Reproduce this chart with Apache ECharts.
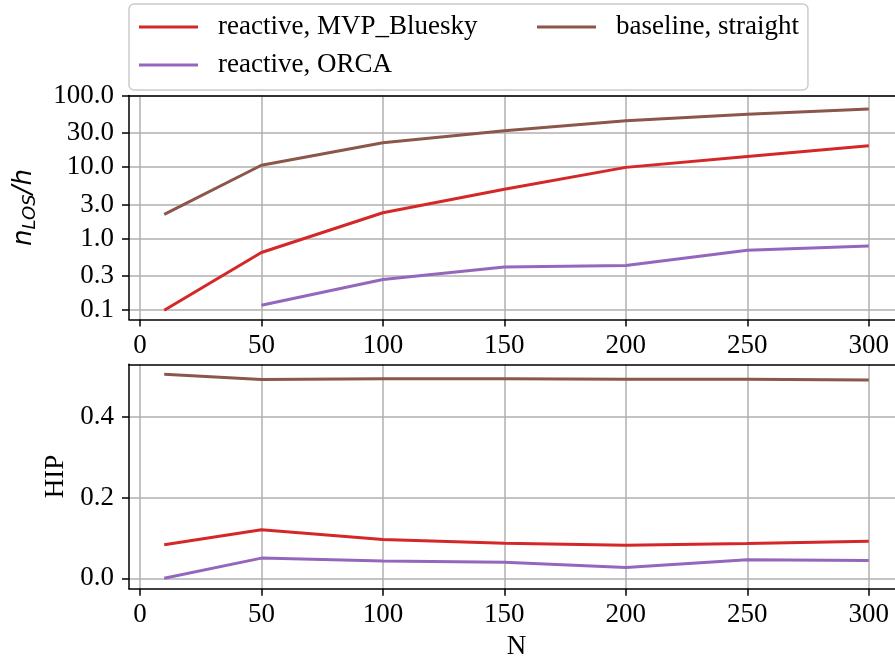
<!DOCTYPE html>
<html>
<head>
<meta charset="utf-8">
<script src="https://cdn.jsdelivr.net/npm/echarts@6/dist/echarts.min.js"></script>
<style>
  html, body { margin: 0; padding: 0; background: #fff; }
  #chart { width: 895px; height: 663px; }
</style>
</head>
<body>
<div id="chart"></div>
<script>
// Number of aircraft N
const nValues = [10, 50, 100, 150, 200, 250, 300];

// Losses of separation per hour (log scale)
const losMvp      = [0.1, 0.64, 2.3, 4.9, 9.9, 14.1, 19.9];
const losOrca     = [null, 0.117, 0.268, 0.40, 0.42, 0.69, 0.79];
const losBaseline = [2.18, 10.6, 21.9, 32.2, 44.5, 54.6, 64.7];

// HIP metric
const hipMvp      = [0.083, 0.120, 0.096, 0.087, 0.082, 0.086, 0.092];
const hipOrca     = [0.0, 0.050, 0.043, 0.040, 0.027, 0.046, 0.044];
const hipBaseline = [0.505, 0.492, 0.494, 0.494, 0.493, 0.493, 0.491];

// Tick positions
const xTicks   = [0, 50, 100, 150, 200, 250, 300];
const losTicks = [0.1, 0.3, 1, 3, 10, 30, 100];
const hipTicks = [0, 0.2, 0.4];

const seriesNames = ['reactive, MVP_Bluesky', 'reactive, ORCA', 'baseline, straight'];
const colors = ['#d62728', '#9467bd', '#8c564b'];

const SERIF = 'Liberation Serif';
const FS = 27;

function pairs(values) {
  const out = [];
  values.forEach((v, i) => { if (v !== null) out.push([nValues[i], v]); });
  return out;
}

function xAxis(gridIndex, name) {
  return {
    type: 'value', gridIndex: gridIndex, min: -4.5, max: 314.5,
    name: name || '', nameLocation: 'middle', nameGap: 45,
    nameTextStyle: { fontFamily: SERIF, fontSize: FS, color: '#000' },
    axisLine: { show: true, onZero: false, lineStyle: { color: '#000', width: 1.5 } },
    axisTick: { show: true, length: 7, customValues: xTicks, lineStyle: { color: '#000', width: 1.5 } },
    axisLabel: { customValues: xTicks, color: '#000', fontFamily: SERIF, fontSize: FS, margin: 13 },
    splitLine: { show: true, lineStyle: { color: '#b0b0b0', width: 1.5 } },
    z: 3
  };
}

function topFrame(gridIndex) {
  return {
    type: 'value', gridIndex: gridIndex, position: 'top', min: -4.5, max: 314.5,
    axisLine: { show: true, onZero: false, lineStyle: { color: '#000', width: 1.5 } },
    axisTick: { show: false }, axisLabel: { show: false }, splitLine: { show: false },
    z: 4
  };
}

function line(name, data, color, xi, yi) {
  return {
    type: 'line', name: name, xAxisIndex: xi, yAxisIndex: yi,
    data: pairs(data), showSymbol: false, symbol: 'none',
    lineStyle: { color: color, width: 3 }, itemStyle: { color: color },
    z: 5, animation: false
  };
}

const option = {
  animation: false,
  backgroundColor: '#fff',
  grid: [
    { left: 129, top: 95.5, width: 775, height: 224, outerBoundsMode: 'none', containLabel: false },
    { left: 129, top: 364.3, width: 775, height: 224.4, outerBoundsMode: 'none', containLabel: false }
  ],
  legend: {
    left: 129, top: 4, width: 700,
    padding: [4, 9, 6, 10], itemGap: 0,
    icon: 'rect', itemWidth: 59, itemHeight: 3,
    backgroundColor: 'rgba(255,255,255,0.8)',
    borderColor: '#cccccc', borderWidth: 1.5, borderRadius: 5,
    textStyle: { fontFamily: SERIF, fontSize: FS, color: '#000', lineHeight: 38, padding: [0, 0, 0, 15] },
    data: [
      { name: seriesNames[0], textStyle: { width: 319 } },
      { name: seriesNames[2] },
      { name: seriesNames[1] }
    ]
  },
  xAxis: [xAxis(0), xAxis(1, 'N'), topFrame(0), topFrame(1)],
  yAxis: [
    {
      type: 'log', gridIndex: 0, logBase: 10, min: 0.0741, max: 100,
      name: '{n|n}{s|LOS}{n|/h}', nameLocation: 'middle', nameGap: 90, nameRotate: 90,
      nameTextStyle: {
        rich: {
          n: { fontFamily: 'DejaVu Sans', fontStyle: 'italic', fontSize: 26, color: '#000', lineHeight: 30 },
          s: { fontFamily: 'DejaVu Sans', fontStyle: 'italic', fontSize: 18, color: '#000', lineHeight: 20, verticalAlign: 'bottom' }
        }
      },
      axisLine: { show: true, onZero: false, lineStyle: { color: '#000', width: 1.5 } },
      axisTick: { show: true, length: 7, customValues: losTicks, lineStyle: { color: '#000', width: 1.5 } },
      axisLabel: { customValues: losTicks, formatter: v => Number(v).toFixed(1), color: '#000', fontFamily: SERIF, fontSize: FS, margin: 15 },
      splitLine: { show: true, lineStyle: { color: '#b0b0b0', width: 1.5 } },
      minorTick: { show: false }, minorSplitLine: { show: false },
      z: 3
    },
    {
      type: 'value', gridIndex: 1, min: -0.0257, max: 0.5297,
      name: 'HIP', nameLocation: 'middle', nameGap: 58, nameRotate: 90,
      nameTextStyle: { fontFamily: SERIF, fontSize: FS, color: '#000' },
      axisLine: { show: true, onZero: false, lineStyle: { color: '#000', width: 1.5 } },
      axisTick: { show: true, length: 7, customValues: hipTicks, lineStyle: { color: '#000', width: 1.5 } },
      axisLabel: { customValues: hipTicks, formatter: v => Number(v).toFixed(1), color: '#000', fontFamily: SERIF, fontSize: FS, margin: 15 },
      splitLine: { show: true, lineStyle: { color: '#b0b0b0', width: 1.5 } },
      z: 3
    }
  ],
  series: [
    line(seriesNames[0], losMvp, colors[0], 0, 0),
    line(seriesNames[1], losOrca, colors[1], 0, 0),
    line(seriesNames[2], losBaseline, colors[2], 0, 0),
    line(seriesNames[0], hipMvp, colors[0], 1, 1),
    line(seriesNames[1], hipOrca, colors[1], 1, 1),
    line(seriesNames[2], hipBaseline, colors[2], 1, 1)
  ]
};

const chart = echarts.init(document.getElementById('chart'), null, { renderer: 'canvas' });
chart.setOption(option);
</script>
</body>
</html>
